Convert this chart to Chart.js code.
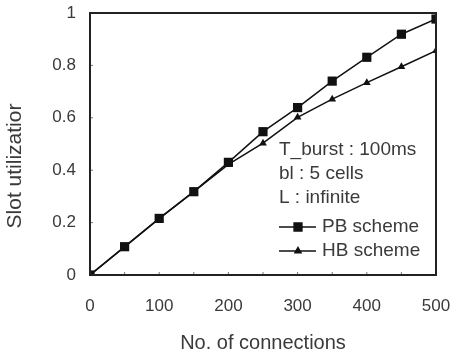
<!DOCTYPE html>
<html>
<head>
<meta charset="utf-8">
<script src="https://cdn.jsdelivr.net/npm/chart.js@4.4.0/dist/chart.umd.min.js"></script>
<style>
html, body { margin: 0; padding: 0; background: #fff; }
#wrap { width: 451px; height: 359px; }
</style>
</head>
<body>
<div id="wrap"><canvas id="chart" width="451" height="359"></canvas></div>
<script>
/* ==========================================
DATA
========================================== */

const connections = [0, 50, 100, 150, 200, 250, 300, 350, 400, 450, 500];

const pbScheme = [0, 0.108, 0.216, 0.318, 0.43, 0.547, 0.639, 0.74, 0.831, 0.919, 0.977];

const hbScheme = [0, 0.107, 0.215, 0.318, 0.422, 0.503, 0.602, 0.671, 0.734, 0.795, 0.856];

const noteLines = ["T_burst : 100ms", "bl : 5 cells", "L : infinite"];

const seriesNames = ["PB scheme", "HB scheme"];

const yTitle = "Slot utilizatior";

const FONT = "'Liberation Sans', Arial, sans-serif";
const TEXT = "#3a3a3a";


/* ==========================================
FRAME + INNER TICKS + LEGEND
========================================== */

const framePlugin = {
id: "frame",
afterDatasetsDraw(chart){

const ctx = chart.ctx;
const a = chart.chartArea;
const xs = chart.scales.x;
const ys = chart.scales.y;

ctx.save();

// inner tick marks
ctx.strokeStyle = "#777";
ctx.lineWidth = 1;
for(let v = 50; v < 500; v += 50){
const px = xs.getPixelForValue(v);
ctx.beginPath();
ctx.moveTo(px, a.bottom);
ctx.lineTo(px, a.bottom - 3);
ctx.stroke();
}
for(let v = 0.2; v < 1; v += 0.2){
const py = ys.getPixelForValue(v);
ctx.beginPath();
ctx.moveTo(a.left, py);
ctx.lineTo(a.left + 3, py);
ctx.stroke();
}

// box
ctx.strokeStyle = "#222";
ctx.lineWidth = 2;
ctx.strokeRect(a.left, a.top, a.right - a.left, a.bottom - a.top);

// y title (sits a bit below the plot centre in the original)
ctx.fillStyle = TEXT;
ctx.font = "21px " + FONT;
ctx.textAlign = "center";
ctx.textBaseline = "middle";
ctx.translate(15, 166);
ctx.rotate(-Math.PI / 2);
ctx.fillText(yTitle, 0, 0);
ctx.setTransform(1, 0, 0, 1, 0, 0);

// notes
ctx.font = "19px " + FONT;
ctx.textAlign = "left";
const rows = [150, 174, 198];
noteLines.forEach((t, i) => {
ctx.fillText(t, 279, rows[i]);
});

// legend entries
const legRows = [227, 251];
chart.data.datasets.forEach((ds, i) => {
const y = legRows[i];
ctx.strokeStyle = ds.borderColor;
ctx.lineWidth = 1.5;
ctx.beginPath();
ctx.moveTo(279, y);
ctx.lineTo(316, y);
ctx.stroke();
ctx.fillStyle = "#111";
Chart.helpers.drawPoint(ctx, {
pointStyle: ds.pointStyle,
radius: ds.pointRadius - 1,
borderWidth: 1
}, 298, y);
ctx.fill();
ctx.fillStyle = TEXT;
ctx.fillText(ds.label, 322, y);
});

ctx.restore();
}
};


/* ==========================================
CHART
========================================== */

new Chart(
document.getElementById("chart"),
{
type: "line",
data: {
labels: connections,
datasets: [
{
label: seriesNames[0],
data: connections.map((c, i) => ({x: c, y: pbScheme[i]})),
borderColor: "#111",
backgroundColor: "#111",
borderWidth: 1.5,
pointStyle: "rect",
pointRadius: 6.5,
pointBorderWidth: 0
},
{
label: seriesNames[1],
data: connections.map((c, i) => ({x: c, y: hbScheme[i]})),
borderColor: "#111",
backgroundColor: "#111",
borderWidth: 1.5,
pointStyle: "triangle",
pointRadius: 4.5,
pointBorderWidth: 0
}
]
},
options: {
responsive: false,
animation: false,
layout: {
padding: { top: 13, right: 15, left: 0, bottom: 0 }
},
plugins: {
legend: { display: false },
tooltip: { enabled: false }
},
scales: {
x: {
type: "linear",
min: 0,
max: 500,
afterFit(scale){
scale.height = 84;
scale.paddingLeft = 0;
scale.paddingRight = 0;
},
grid: { display: false, drawTicks: false },
border: { display: false },
ticks: {
stepSize: 100,
padding: 21,
color: TEXT,
font: { family: FONT, size: 17 }
},
title: {
display: true,
text: "No. of connections",
color: TEXT,
font: { family: FONT, size: 20 },
padding: { top: 11 }
}
},
y: {
min: 0,
max: 1,
afterFit(scale){
scale.width = 90;
scale.paddingTop = 0;
scale.paddingBottom = 0;
},
grid: { display: false, drawTicks: false },
border: { display: false },
ticks: {
stepSize: 0.2,
padding: 14,
color: TEXT,
font: { family: FONT, size: 17 },
callback: v => Number(v.toFixed(1)).toString()
}
}
}
},
plugins: [framePlugin]
}
);
</script>
</body>
</html>
